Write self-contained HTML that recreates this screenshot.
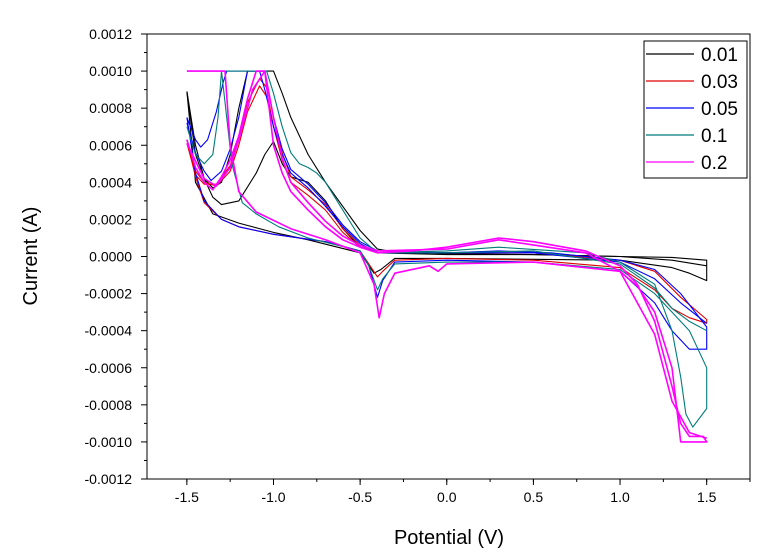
<!DOCTYPE html>
<html><head><meta charset="utf-8"><style>
body{margin:0;background:#fff;}
svg{display:block;font-family:"Liberation Sans",Arial,sans-serif;}
</style></head><body>
<svg id="chart" width="784" height="557"></svg>
<script>
// ---- data (current in units of 1e-4 A) ----
const xTicks=[-1.5,-1.0,-0.5,0.0,0.5,1.0,1.5];
const xTickLabels=["-1.5","-1.0","-0.5","0.0","0.5","1.0","1.5"];
const yTicks=[-12,-10,-8,-6,-4,-2,0,2,4,6,8,10,12];
const yTickLabels=["-0.0012","-0.0010","-0.0008","-0.0006","-0.0004","-0.0002","0.0000","0.0002","0.0004","0.0006","0.0008","0.0010","0.0012"];
const seriesNames=["0.01","0.03","0.05","0.1","0.2"];
const seriesColors=["#000000","#e00000","#0000ff","#007b7b","#ff00ff"];

// black 0.01
const s1v1=[-1.5,-1.45,-1.4,-1.35,-1.3,-1.2,-1.1,-1.05,-1.0,-0.95,-0.9,-0.8,-0.7,-0.6,-0.5,-0.4,0,0.5,1.0,1.3,1.5,1.5,1.4,1.3,1.0,0.5,0,-0.3,-0.38,-0.42,-0.5,-0.8,-1.0,-1.2,-1.35,-1.45,-1.5];
const s1i1=[8.9,6.0,4.2,3.2,2.8,3.0,4.5,5.5,6.2,5.0,4.3,4.0,3.0,1.5,0.5,0.2,0.1,0.1,0.0,-0.05,-0.2,-1.3,-0.9,-0.6,-0.2,-0.15,-0.1,-0.1,-0.7,-0.9,0.2,0.9,1.3,1.8,2.3,4.0,8.9];
const s1v2=[-1.5,-1.45,-1.4,-1.35,-1.3,-1.25,-1.2,-1.15,-1.0,-0.95,-0.9,-0.8,-0.7,-0.6,-0.5,-0.4,-0.3,0,0.5,1.0,1.3,1.5];
const s1i2=[8.9,5.5,4.2,3.7,4.0,5.5,8.0,10,10,8.8,7.5,5.5,4.0,2.7,1.4,0.4,0.25,0.15,0.1,0.0,-0.2,-0.5];
// red 0.03
const s2v1=[-1.5,-1.45,-1.4,-1.33,-1.25,-1.2,-1.15,-1.08,-1.03,-1.0,-0.95,-0.9,-0.8,-0.7,-0.6,-0.5,-0.4,0,0.5,1.0,1.2,1.35,1.5,1.5,1.4,1.3,1.2,1.0,0.5,0,-0.3,-0.37,-0.4,-0.45,-0.5,-0.7,-1.0,-1.2,-1.3,-1.4,-1.45,-1.5];
const s2i1=[6.3,4.6,4.0,3.8,4.6,6.0,7.8,9.2,8.5,7.0,5.2,4.0,3.3,2.5,1.3,0.5,0.2,0.2,0.2,-0.2,-0.8,-2.2,-3.4,-3.6,-3.3,-2.8,-1.8,-0.6,-0.2,-0.1,-0.2,-0.8,-1.1,-0.4,0.3,0.8,1.2,1.6,2.0,2.9,4.3,6.3];
const s2v2=[-1.5,-1.45,-1.4,-1.33,-1.25,-1.2,-1.15,-1.08,-1.03,-1.0,-0.95,-0.9,-0.8,-0.7,-0.6,-0.5,-0.4];
const s2i2=[6.1,4.4,3.9,3.9,4.9,6.5,8.3,9.6,9.0,7.5,5.6,4.3,3.6,2.8,1.5,0.6,0.2];
// blue 0.05
const s3v1=[-1.5,-1.45,-1.42,-1.38,-1.33,-1.29,-1.27,-1.08,-1.05,-1.0,-0.95,-0.9,-0.8,-0.7,-0.6,-0.5,-0.4,0,0.3,0.6,1.0,1.2,1.35,1.5,1.5,1.4,1.3,1.2,1.0,0.5,0,-0.3,-0.37,-0.4,-0.45,-0.5,-0.7,-1.0,-1.2,-1.3,-1.4,-1.45,-1.5];
const s3i1=[7.5,6.3,5.9,6.3,7.8,9.4,10,10,9.0,7.0,5.5,4.5,3.7,2.7,1.6,0.7,0.2,0.2,0.3,0.2,-0.2,-0.7,-2.0,-3.8,-5.0,-5.0,-4.0,-2.5,-0.8,-0.3,-0.2,-0.3,-1.3,-2.2,-0.5,0.3,0.8,1.2,1.6,2.0,3.0,4.5,7.5];
const s3v2=[-1.5,-1.45,-1.4,-1.36,-1.3,-1.25,-1.2,-1.15,-1.05,-1.0,-0.95,-0.9,-0.8,-0.7,-0.6,-0.5,-0.4,0,0.5,1.0,1.2,1.35,1.5];
const s3i2=[7.2,5.6,4.6,4.1,4.6,5.8,7.5,10,10,7.5,5.8,4.7,3.9,2.9,1.7,0.8,0.3,0.2,0.2,-0.3,-1.2,-2.5,-3.6];
// teal 0.1
const s4v1=[-1.5,-1.45,-1.4,-1.35,-1.32,-1.3,-1.04,-1.0,-0.95,-0.9,-0.85,-0.8,-0.75,-0.7,-0.6,-0.5,-0.4,0,0.3,0.8,1.0,1.2,1.3,1.35,1.38,1.42,1.5,1.5,1.4,1.2,1.0,0.5,0,-0.3,-0.37,-0.4,-0.45,-0.5,-0.8,-0.97,-1.1,-1.18,-1.24,-1.3,-1.5];
const s4i1=[7.0,5.5,5.0,5.5,7.5,10,10,8.8,7.0,5.6,5.0,4.8,4.5,4.0,2.5,1.0,0.2,0.3,0.5,0.2,-0.3,-1.5,-4.0,-6.5,-8.5,-9.2,-8.2,-6.0,-4.0,-2.0,-0.7,-0.3,-0.3,-0.4,-1.2,-1.8,-0.5,0.3,1.0,1.6,2.3,2.9,5.0,10,10];
const s4v2=[-0.5,-0.4,0,0.5,1.0,1.2,1.3,1.4,1.5];
const s4i2=[0.6,0.2,0.2,0.3,-0.4,-1.7,-2.8,-3.5,-4.0];
// magenta 0.2
const s5v1=[-1.5,-1.45,-1.4,-1.35,-1.3,-1.25,-1.2,-1.15,-1.1,-1.05,-1.0,-0.95,-0.9,-0.8,-0.7,-0.6,-0.5,-0.4,-0.2,0,0.3,0.5,0.8,1.0,1.1,1.2,1.3,1.35,1.4,1.48,1.5,1.5,1.35,1.3,1.2,1.1,1.0,0.5,0,-0.05,-0.1,-0.3,-0.36,-0.39,-0.42,-0.5,-0.7,-0.9,-1.1,-1.2,-1.25,-1.28,-1.5];
const s5i1=[6.3,4.8,4.0,3.6,4.3,5.2,6.5,8.5,10,10,6.0,4.5,3.5,2.5,1.6,0.9,0.5,0.2,0.3,0.5,1.0,0.8,0.3,-0.5,-1.5,-3.5,-7.0,-9.0,-9.7,-9.7,-10,-10,-10,-6.0,-3.0,-1.6,-0.8,-0.3,-0.4,-0.8,-0.5,-0.9,-2.0,-3.3,-1.5,0.2,0.9,1.5,2.4,3.5,6.0,10,10];
const s5v2=[-1.5,-1.4,-1.33,-1.25,-1.2,-1.12,-1.05,-1.0,-0.95,-0.9,-0.8,-0.7,-0.6,-0.5,-0.4,0,0.3,0.8,1.0,1.2,1.3,1.4,1.5];
const s5i2=[6.1,4.2,3.8,4.8,6.3,9.0,10,7.5,5.3,4.0,2.9,1.9,1.1,0.6,0.3,0.4,0.9,0.2,-0.8,-4.2,-7.8,-9.5,-9.8];

const seriesCycles=[[[s1v1,s1i1],[s1v2,s1i2]],[[s2v1,s2i1],[s2v2,s2i2]],[[s3v1,s3i1],[s3v2,s3i2]],[[s4v1,s4i1],[s4v2,s4i2]],[[s5v1,s5i1],[s5v2,s5i2]]];

// ---- layout ----
const L=147,R=750,T=34,B=479;
const X0=-1.73,X1=1.75;
function sx(v){return L+(v-X0)/(X1-X0)*(R-L);}
function sy(i){return B-(i+12)/24*(B-T);}
const NS="http://www.w3.org/2000/svg";
const svg=document.getElementById('chart');
function mk(tag,attrs,parent){const e=document.createElementNS(NS,tag);for(const k in attrs)e.setAttribute(k,attrs[k]);(parent||svg).appendChild(e);return e;}

const defs=mk('defs',{});
const cp=mk('clipPath',{id:'pc'},defs);
mk('rect',{x:L,y:T,width:R-L,height:B-T},cp);

const plotG=mk('g',{'clip-path':'url(#pc)'});


function pathD(vs,is){
  return vs.map((v,k)=>(k?'L':'M')+sx(v).toFixed(1)+','+sy(Math.min(10,Math.max(-10,is[k]))).toFixed(1)).join(' ');
}
seriesCycles.forEach((cyc,s)=>{
  cyc.forEach((c,ci)=>{
    const el=mk('path',{d:pathD(c[0],c[1]),fill:'none',stroke:seriesColors[s],'stroke-width':s===4?1.6:1.1,'stroke-linejoin':'round'},plotG);
    
    
  });
});

const fr=mk('rect',{x:L,y:T,width:R-L,height:B-T,fill:'none',stroke:'#000','stroke-width':1});



yTicks.forEach((t,k)=>{
  const y=sy(t);
  mk('line',{x1:L-6,x2:L,y1:y,y2:y,stroke:'#000'});
  const tx=mk('text',{x:L-15,y:y+5,'text-anchor':'end','font-size':14});
  tx.textContent=yTickLabels[k];
  
  
  if(k<yTicks.length-1){const m=sy(t+1);mk('line',{x1:L-3,x2:L,y1:m,y2:m,stroke:'#000'});}
});
xTicks.forEach((t,k)=>{
  const x=sx(t);
  mk('line',{x1:x,x2:x,y1:B,y2:B+6,stroke:'#000'});
  const tx=mk('text',{x:x,y:B+23,'text-anchor':'middle','font-size':14});
  tx.textContent=xTickLabels[k];
  
  
});
for(let v=-1.75;v<=1.76;v+=0.25){const x=sx(v);if(x>=L&&x<=R)mk('line',{x1:x,x2:x,y1:B,y2:B+3,stroke:'#000'});}

const yt=mk('text',{x:0,y:0,'text-anchor':'middle','font-size':20,transform:'translate(37,256) rotate(-90)'});
yt.textContent='Current (A)';


const xt=mk('text',{x:449,y:544,'text-anchor':'middle','font-size':20});
xt.textContent='Potential (V)';



const lg=mk('g',{});


mk('rect',{x:644,y:41,width:103,height:137,fill:'#fff',stroke:'#000'},lg);
seriesNames.forEach((n,k)=>{
  const y=54+k*27;
  const ent=mk('g',{},lg);
  
  
  mk('line',{x1:646,x2:694,y1:y,y2:y,stroke:seriesColors[k],'stroke-width':1.2},ent);
  const tx=mk('text',{x:701,y:y+7,'font-size':19},ent);
  tx.textContent=n;
});
</script>
</body></html>
